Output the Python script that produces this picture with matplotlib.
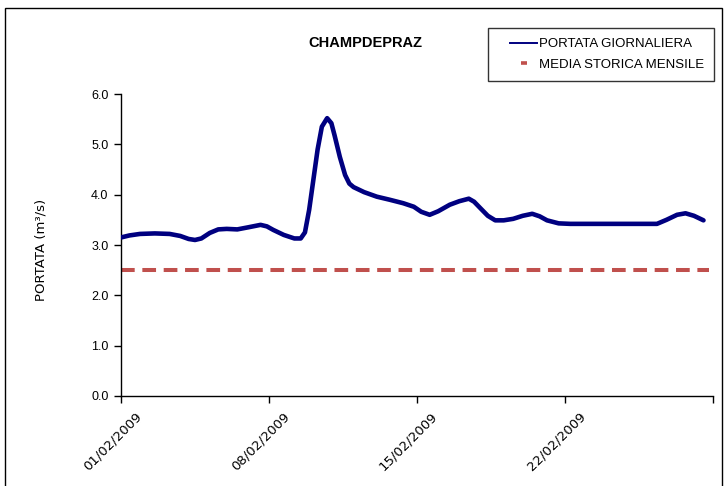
import matplotlib
matplotlib.use("Agg")
import matplotlib.pyplot as plt
from matplotlib.lines import Line2D
from matplotlib.patches import Rectangle
from matplotlib.legend_handler import HandlerLine2D
from matplotlib.transforms import ScaledTranslation
import pandas as pd
import numpy as np

plt.rcParams['font.family'] = ['Liberation Sans', 'DejaVu Sans']

# Data: days since 01/02/2009 and flow values (m3/s)
days = [0.0, 0.4, 0.9, 1.6, 2.3, 2.8, 3.2, 3.5, 3.8, 4.2, 4.6, 5.0, 5.5,
        6.0, 6.6, 6.9, 7.2, 7.7, 8.2, 8.5, 8.7, 8.9, 9.1, 9.3, 9.5, 9.75,
        9.95, 10.1, 10.35, 10.6, 10.8, 11.0, 11.5, 12.1, 12.7, 13.35, 13.85,
        14.2, 14.6, 15.0, 15.55, 16.0, 16.45, 16.7, 17.0, 17.35, 17.7, 18.1,
        18.55, 19.0, 19.45, 19.8, 20.15, 20.7, 21.25, 25.35, 25.8, 26.3,
        26.7, 27.1, 27.55]
portata = [3.15, 3.19, 3.22, 3.23, 3.22, 3.18, 3.12, 3.10, 3.13, 3.24, 3.31,
           3.32, 3.31, 3.35, 3.40, 3.37, 3.30, 3.20, 3.13, 3.13, 3.25, 3.70,
           4.30, 4.90, 5.35, 5.52, 5.42, 5.18, 4.75, 4.39, 4.22, 4.15, 4.05,
           3.96, 3.90, 3.83, 3.76, 3.66, 3.60, 3.67, 3.80, 3.87, 3.92, 3.86,
           3.73, 3.58, 3.49, 3.49, 3.52, 3.58, 3.62, 3.57, 3.49, 3.43, 3.42,
           3.42, 3.50, 3.60, 3.63, 3.58, 3.49]
media_days = [0.0, 27.8]
media = [2.5, 2.5]

tick_dates = ['2009-02-01', '2009-02-08', '2009-02-15', '2009-02-22', '2009-03-01']
tick_labels = ['01/02/2009', '08/02/2009', '15/02/2009', '22/02/2009', '']

start = pd.Timestamp('2009-02-01')
x = start + pd.to_timedelta(days, unit='D')
xm = start + pd.to_timedelta(media_days, unit='D')

fig = plt.figure(figsize=(7.24, 4.86), dpi=100)
fig.patch.set_facecolor('white')
ax = fig.add_axes([121/724, 1-396/486, (713-121)/724, (396-94)/486])

ax.plot(x, portata, color='#000080', lw=3.3, solid_joinstyle='round',
        solid_capstyle='round', zorder=3)
ax.plot(xm, media, color='#C0504D', lw=2.9, ls=(0, (3.4, 1.9)), zorder=2)

ax.set_ylim(0, 6)
ax.set_yticks(np.arange(0, 7, 1))
ax.yaxis.set_major_formatter(matplotlib.ticker.FormatStrFormatter('%.1f'))
ax.set_xlim(pd.Timestamp(tick_dates[0]), pd.Timestamp(tick_dates[-1]))
ax.set_xticks([pd.Timestamp(d) for d in tick_dates])
ax.set_xticklabels(tick_labels, rotation=45, ha='right', va='top',
                   rotation_mode='anchor', family='DejaVu Sans', fontsize=9.5)
for s in ['top', 'right']:
    ax.spines[s].set_visible(False)
for s in ['left', 'bottom']:
    ax.spines[s].set_color('black')
    ax.spines[s].set_linewidth(1.0)
ax.tick_params(axis='both', direction='out', length=5, width=1, colors='black')
ax.tick_params(axis='y', pad=4, labelsize=9)
ax.tick_params(axis='x', pad=5)
off = ScaledTranslation(14/100, 0, fig.dpi_scale_trans)
for lab in ax.get_xticklabels():
    lab.set_transform(lab.get_transform() + off)

ax.set_ylabel('PORTATA (m³/s)', fontsize=9.5, family='DejaVu Sans', va='center')
ax.yaxis.set_label_coords((41-121)/592, (396-250)/302)

fig.text(365/724, 1-43/486, 'CHAMPDEPRAZ', ha='center', va='center',
         fontsize=10.5, fontweight='bold')

h1 = Line2D([], [], color='#000080', lw=1.4)
h2 = Line2D([], [], color='#C0504D', ls='none', marker='_', markersize=4,
            markeredgewidth=2.6)
leg = fig.legend([h1, h2], ['PORTATA GIORNALIERA', 'MEDIA STORICA MENSILE'],
                 loc='upper left', bbox_to_anchor=(488/724, 1-28/486),
                 borderaxespad=0, frameon=True, fancybox=False,
                 edgecolor='black', fontsize=9.5, handlelength=3.0,
                 handletextpad=0.1, borderpad=0.75, labelspacing=0.65,
                 numpoints=1,
                 handler_map={h1: HandlerLine2D(xpad=0.95),
                              h2: HandlerLine2D(xpad=0.95, numpoints=1)})
leg.get_frame().set_linewidth(1.0)

fig.patches.append(Rectangle((5/724, -0.05), (722-5)/724, 1.05 - 8/486,
                             transform=fig.transFigure, fill=False,
                             edgecolor='black', lw=1.0))

fig.savefig('out.png', dpi=100)
